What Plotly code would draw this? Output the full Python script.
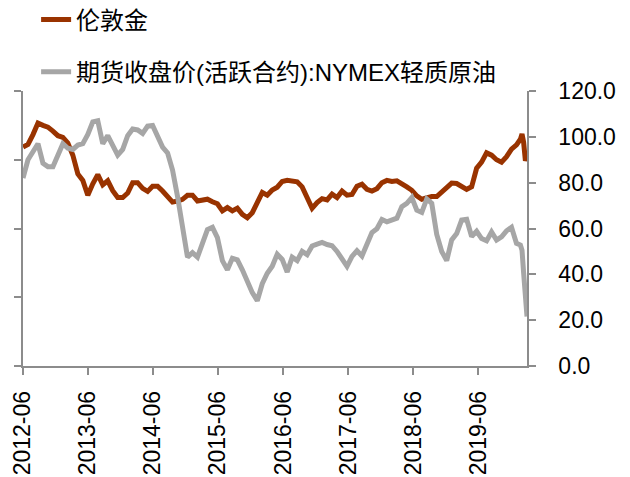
import pandas as pd
import plotly.graph_objects as go

# ---- data ----
grid_start = "2012-06-01"
grid_step = "28D"
grid_count = 100
end_dates = ["2020-01-25", "2020-02-03", "2020-02-12", "2020-02-22", "2020-03-02"]

gold = [
    1592, 1612, 1683, 1767, 1750, 1737, 1708, 1675, 1663, 1622,
    1533, 1397, 1350, 1242, 1325, 1392, 1317, 1347, 1275, 1225,
    1225, 1258, 1333, 1333, 1292, 1270, 1308, 1308, 1273, 1237,
    1192, 1200, 1212, 1242, 1242, 1200, 1207, 1213, 1195, 1180,
    1128, 1152, 1128, 1148, 1103, 1078, 1115, 1200, 1262, 1242,
    1280, 1300, 1342, 1350, 1347, 1340, 1303, 1233, 1147, 1188,
    1217, 1208, 1250, 1225, 1272, 1242, 1247, 1307, 1322, 1285,
    1272, 1290, 1333, 1350, 1342, 1347, 1328, 1303, 1278, 1237,
    1213, 1227, 1232, 1232, 1265, 1300, 1330, 1327, 1303, 1285,
    1303, 1438, 1483, 1550, 1533, 1500, 1482, 1522, 1577, 1608,
    1650, 1688, 1628, 1493, 1530,
]

oil = [
    82, 90, 93.5, 97, 88.5, 87, 87, 92, 97, 95,
    94.5, 96.4, 97, 101, 106.5, 107, 97, 100.5, 96.5, 92,
    94.5, 100.5, 103.4, 103, 101.5, 104.7, 105, 100.6, 95.5, 93,
    85.5, 74, 60.5, 47.5, 49.5, 47.5, 53.5, 59.5, 60.5, 56,
    46, 42, 47, 46.3, 42, 36.7, 32, 28.5, 35.9, 40.5,
    43.5, 48.8, 46.5, 41, 47.5, 46, 50, 48.6, 52.4, 53.2,
    53.9, 53, 52.5, 50, 47, 43.5, 47.8, 50.3, 48, 52.8,
    58.2, 59.9, 63.9, 62.9, 64, 64.5, 69.5, 71, 73.5, 68,
    67, 72.9, 71, 57.4, 50, 46, 55, 57.8, 63.7, 64,
    56.5, 58.8, 55.6, 54.6, 58.5, 55, 56.4, 59, 60.5, 53.5,
    52.8, 50.5, 40.7, 26, 21.6,
]

tick_start = "2012-06-01"
x_range = ["2012-06-01", "2020-03-02"]

name_gold = "伦敦金"
name_oil = "期货收盘价(活跃合约):NYMEX轻质原油"

dates = list(pd.date_range(grid_start, periods=grid_count, freq=grid_step)) + list(pd.to_datetime(end_dates))

FONT = "Liberation Sans, Noto Sans CJK SC, sans-serif"
AXIS_COLOR = "#8c8c8c"

fig = go.Figure()
fig.add_trace(go.Scatter(
    x=dates, y=gold, name=name_gold, mode="lines", yaxis="y",
    line=dict(color="#993300", width=5), legendgroup="g1",
))
fig.add_trace(go.Scatter(
    x=dates, y=oil, name=name_oil, mode="lines", yaxis="y2",
    line=dict(color="#a6a6a6", width=5), legendgroup="g2",
))

fig.update_layout(
    width=630, height=477,
    margin=dict(l=14.7, r=111.3, t=83, b=119, pad=0, autoexpand=False),
    paper_bgcolor="white", plot_bgcolor="white",
    font=dict(family=FONT, size=23, color="#000000"),
    showlegend=True,
    legend=dict(
        x=0.026, y=1.34, xanchor="left", yanchor="top",
        font=dict(family=FONT, size=24, color="#000000"),
        traceorder="grouped", tracegroupgap=18,
        bgcolor="rgba(0,0,0,0)", itemwidth=30,
    ),
    xaxis=dict(
        type="date", range=x_range, automargin=False,
        tick0=tick_start, dtick="M12", tickformat="%Y-%m",
        tickangle=-90, ticks="outside", ticklen=7, tickwidth=1.5,
        tickcolor=AXIS_COLOR, showline=True, linecolor=AXIS_COLOR, linewidth=1.5,
        showgrid=False, zeroline=False, ticklabelstandoff=7,
        tickfont=dict(family=FONT, size=23),
    ),
    yaxis=dict(
        range=[0, 2000], dtick=500, tick0=0, showticklabels=False, automargin=False,
        ticks="outside", ticklen=7, tickwidth=1.5, tickcolor=AXIS_COLOR,
        showline=True, linecolor=AXIS_COLOR, linewidth=1.5,
        showgrid=False, zeroline=False,
    ),
    yaxis2=dict(
        overlaying="y", side="right", range=[0, 120], dtick=20, tick0=0,
        tickformat=".1f", automargin=False, ticklabelstandoff=18,
        ticks="outside", ticklen=7, tickwidth=1.5,
        tickcolor=AXIS_COLOR, showline=True, linecolor=AXIS_COLOR, linewidth=1.5,
        showgrid=False, zeroline=False,
        tickfont=dict(family=FONT, size=23),
    ),
)

fig.write_html("out.html")
